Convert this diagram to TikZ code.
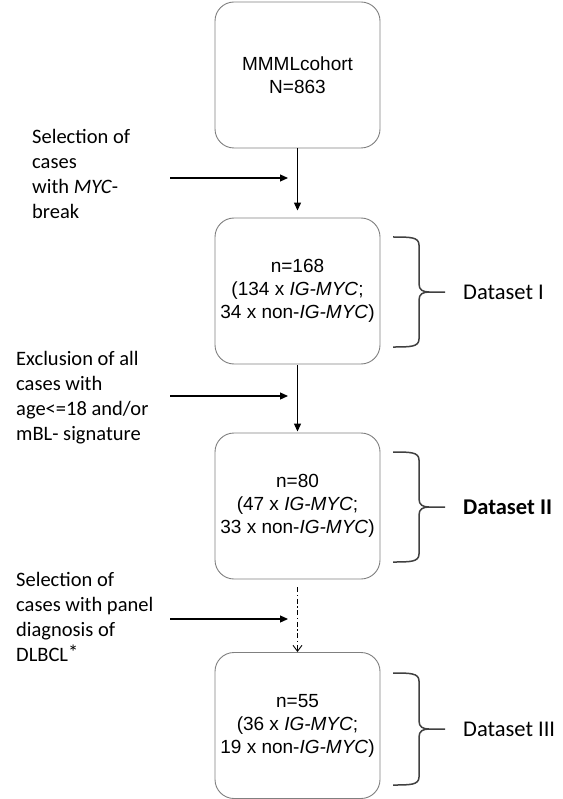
\documentclass[tikz,border=0pt]{standalone}
\usepackage{fontspec}
\setmainfont{Liberation Sans}
\newfontfamily\labelfont{Carlito}
\usetikzlibrary{arrows.meta}

\tikzset{
  cohortbox/.style={draw=black!50, line width=0.9pt, rounded corners=19pt,
    minimum width=165pt, minimum height=146pt, align=center, inner sep=0pt,
    font=\fontsize{19}{23}\selectfont},
  steplabel/.style={anchor=west, align=left, inner sep=0pt,
    font=\labelfont\fontsize{20.5}{25}\selectfont},
  setlabel/.style={anchor=west, inner sep=0pt,
    font=\labelfont\fontsize{22.5}{27}\selectfont},
  flow/.style={line width=1.2pt, -{Triangle[length=8pt,width=7pt]}},
  pending/.style={line width=0.9pt, dash pattern=on 5pt off 2.5pt on 1.5pt off 2.5pt,
    -{Straight Barb[length=6pt,width=9pt]}},
  bracket/.style={draw=black!75, line width=1.5pt}
}

% right-hand curly bracket: x positions fixed, y values top/mid/bottom
\newcommand{\setbracket}[3]{%
  \draw[bracket] (393,#1) .. controls (410,#1) and (419,#1) .. (419,#1+8)
    -- (419,#2-8) .. controls (419,#2-2) and (423,#2) .. (429,#2) -- (445,#2);
  \draw[bracket] (429,#2) .. controls (423,#2) and (419,#2+2) .. (419,#2+8)
    -- (419,#3-8) .. controls (419,#3) and (410,#3) .. (393,#3);
}

\begin{document}
\begin{tikzpicture}[x=1pt, y=-1pt]
  \useasboundingbox[fill=white] (0,0) rectangle (562,799);

  % cohort boxes
  \node[cohortbox] (all)  at (297.5,75)    {MMMLcohort\\N=863};
  \node[cohortbox] (set1) at (297.5,291) {n=168\\(134 x \textit{IG-MYC};\\34 x non-\textit{IG-MYC})};
  \node[cohortbox] (set2) at (297.5,506) {n=80\\(47 x \textit{IG-MYC};\\33 x non-\textit{IG-MYC})};
  \node[cohortbox] (set3) at (297.5,725.5) {n=55\\(36 x \textit{IG-MYC};\\19 x non-\textit{IG-MYC})};

  % selection steps between boxes
  \draw[flow, shorten >=7pt] (all.south) -- (set1.north);
  \draw[flow, shorten <=1pt, shorten >=1pt] (set1.south) -- (set2.north);
  \draw[pending, shorten <=8pt] (set2.south) -- (set3.north);

  % criteria labels with their arrows
  \node[steplabel] (c1) at (32,174) {Selection of\\cases\\with \textit{MYC}-\\break};
  \node[steplabel] (c2) at (16,398) {Exclusion of all\\cases with\\age<=18 and/or\\mBL- signature};
  \node[steplabel] (c3) at (16,617) {Selection of\\cases with panel\\diagnosis of\\DLBCL\raisebox{2pt}{*}};

  \coordinate (s1) at (170,178); \coordinate (e1) at (288,178);
  \coordinate (s2) at (170,396); \coordinate (e2) at (288,396);
  \coordinate (s3) at (170,619); \coordinate (e3) at (288,619);
  \draw[flow] (s1) -- (e1);
  \draw[flow] (s2) -- (e2);
  \draw[flow] (s3) -- (e3);

  % dataset brackets
  \setbracket{237}{292}{347}
  \setbracket{452}{507}{562}
  \setbracket{673}{729}{785}
  \node[setlabel] (d1) at (463,292) {Dataset I};
  \node[setlabel] (d2) at (463,507) {\bfseries Dataset II};
  \node[setlabel] (d3) at (463,729) {Dataset III};
\end{tikzpicture}
\end{document}
